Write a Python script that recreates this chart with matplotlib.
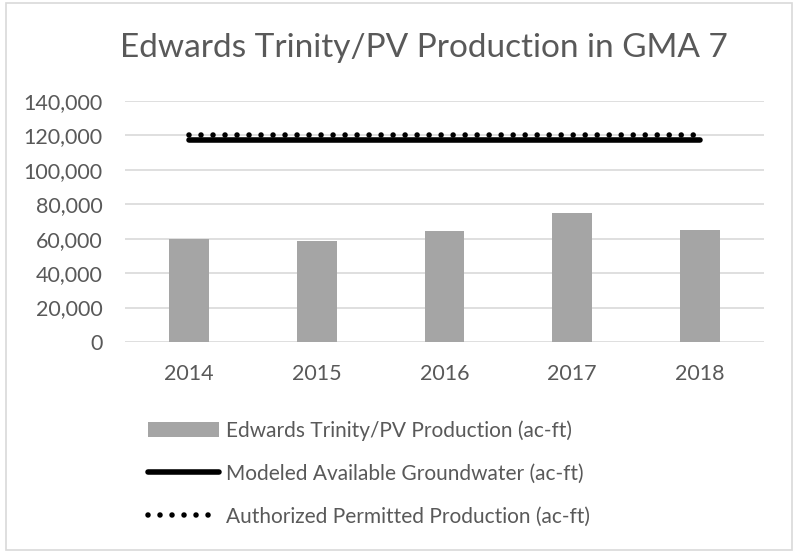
import matplotlib
matplotlib.use("Agg")
import matplotlib.pyplot as plt
from matplotlib.patches import Rectangle
from matplotlib.ticker import FuncFormatter

years = ["2014", "2015", "2016", "2017", "2018"]
production = [60000, 58500, 64300, 75100, 65000]
modeled_available = [117300, 117300, 117300, 117300, 117300]
authorized = [120200, 120200, 120200, 120200, 120200]

labels = [
    "Edwards Trinity/PV Production (ac-ft)",
    "Modeled Available Groundwater (ac-ft)",
    "Authorized Permitted Production (ac-ft)",
]

text_color = "#595959"
grid_color = "#D9D9D9"
bar_color = "#A5A5A5"

plt.rcParams["font.family"] = ["Lato", "DejaVu Sans"]

W, H = 793, 552
fig = plt.figure(figsize=(W / 100, H / 100), dpi=100)
ax = fig.add_axes([125 / W, 1 - 342 / H, 639 / W, 241 / H])

x = range(len(years))
bars = ax.bar(x, production, width=0.31, color=bar_color, zorder=2, label=labels[0])
line1, = ax.plot(x, modeled_available, color="black", lw=4, solid_capstyle="round",
                 zorder=3, label=labels[1])
line2, = ax.plot(x, authorized, color="black", lw=4, linestyle=(0, (0.001, 2.16)),
                 dash_capstyle="round", zorder=4, label=labels[2])

ax.set_xlim(-0.5, len(years) - 0.5)
ax.set_ylim(0, 140000)
ax.set_yticks(range(0, 140001, 20000))
ax.yaxis.set_major_formatter(FuncFormatter(lambda v, p: f"{int(v):,}"))
ax.set_xticks(list(x))
ax.set_xticklabels(years)
ax.grid(axis="y", color=grid_color, lw=1.2, zorder=0)
for s in ax.spines.values():
    s.set_visible(False)
ax.tick_params(axis="both", length=0, labelsize=15.5, colors=text_color)
ax.tick_params(axis="y", pad=16)
ax.tick_params(axis="x", pad=16)

fig.text(424 / W, 1 - 57 / H, "Edwards Trinity/PV Production in GMA 7",
         ha="center", va="baseline", fontsize=24, color=text_color)

leg = fig.legend([bars, line1, line2], labels, loc="upper left",
                 bbox_to_anchor=(148 / W, 1 - 420 / H), frameon=False,
                 fontsize=15, handlelength=3.4, handletextpad=0.35,
                 labelspacing=1.1, borderpad=0, borderaxespad=0)
for t in leg.get_texts():
    t.set_color(text_color)

fig.patches.append(Rectangle((6 / W, 2 / H), 786 / W, 547 / H, transform=fig.transFigure,
                             fill=False, edgecolor=grid_color, lw=1.2))

fig.savefig("out.png", dpi=100)
